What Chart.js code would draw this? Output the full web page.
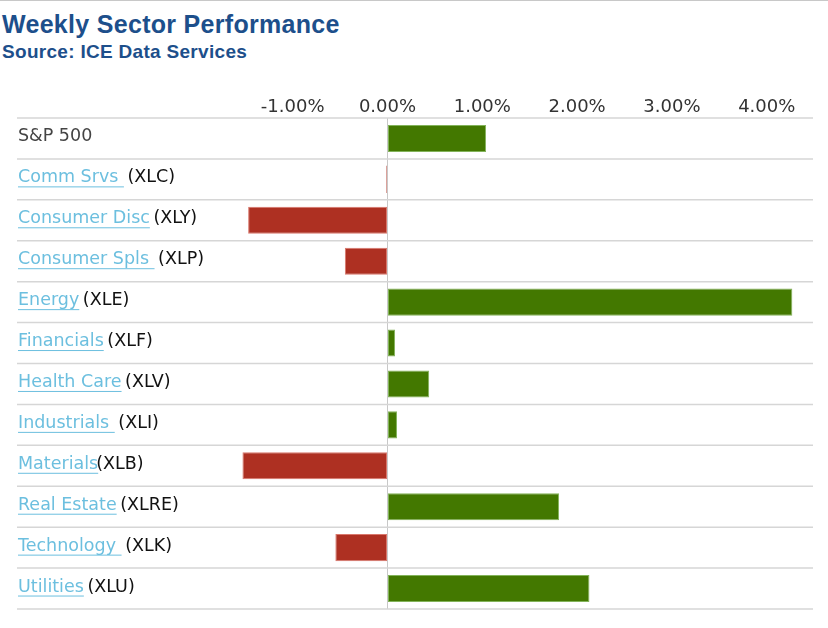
<!DOCTYPE html>
<html>
<head>
<meta charset="utf-8">
<script src="https://cdn.jsdelivr.net/npm/chart.js@4"></script>
<style>
  body { margin: 0; background: #fff; }
  #wrap { position: relative; width: 828px; height: 628px; border-top: 1px solid #c8c8c8; box-sizing: border-box; }
  #title { position: absolute; left: 2px; top: 9px; font: bold 25px "Liberation Sans", Arial, sans-serif; letter-spacing: 0.3px; color: #1d4f8b; }
  #subtitle { position: absolute; left: 2px; top: 40px; font: bold 19px "Liberation Sans", Arial, sans-serif; letter-spacing: 0.3px; color: #1d4f8b; }
  #myChart { position: absolute; left: 0; top: -1px; }
</style>
</head>
<body>
<div id="wrap">
  <div id="title">Weekly Sector Performance</div>
  <div id="subtitle">Source: ICE Data Services</div>
  <canvas id="myChart" width="828" height="628"></canvas>
</div>
<script>
// sector rows, top to bottom
const sectors = ['S&P 500', 'Comm Srvs', 'Consumer Disc', 'Consumer Spls', 'Energy', 'Financials',
  'Health Care', 'Industrials', 'Materials', 'Real Estate', 'Technology', 'Utilities'];
// underlined link part of each label (S&P 500 has no link)
const linkText = ['', 'Comm Srvs ', 'Consumer Disc', 'Consumer Spls ', 'Energy', 'Financials',
  'Health Care', 'Industrials ', 'Materials', 'Real Estate', 'Technology ', 'Utilities'];
const tickerText = ['S&P 500', ' (XLC)', ' (XLY)', ' (XLP)', ' (XLE)', ' (XLF)',
  ' (XLV)', ' (XLI)', '(XLB)', ' (XLRE)', ' (XLK)', ' (XLU)'];
// weekly % change
const weeklyChange = [1.04, -0.01, -1.47, -0.45, 4.27, 0.08, 0.44, 0.10, -1.53, 1.81, -0.55, 2.13];
const xTickValues = [-1, 0, 1, 2, 3, 4];

const labelFont = '17.5px "DejaVu Sans", Verdana, sans-serif';

// row separators across the whole width, including the label column
const rowLines = {
  id: 'rowLines',
  beforeDatasetsDraw(chart) {
    const ctx = chart.ctx;
    const area = chart.chartArea;
    const band = (area.bottom - area.top) / sectors.length;
    ctx.save();
    ctx.strokeStyle = '#d6d6d6';
    ctx.lineWidth = 1.5;
    for (let i = 0; i <= sectors.length; i++) {
      let yy = area.top + i * band;
      ctx.beginPath();
      ctx.moveTo(17, yy);
      ctx.lineTo(813, yy);
      ctx.stroke();
    }
    ctx.restore();
  }
};

// two-colour row labels: underlined link + ticker
const rowLabels = {
  id: 'rowLabels',
  afterDraw(chart) {
    const ctx = chart.ctx;
    const y = chart.scales.y;
    ctx.save();
    ctx.font = labelFont;
    ctx.textBaseline = 'alphabetic';
    ctx.textAlign = 'left';
    for (let i = 0; i < sectors.length; i++) {
      let base = y.getPixelForValue(i) + 3;
      let x = 18;
      if (linkText[i]) {
        ctx.fillStyle = '#6cbfdf';
        ctx.fillText(linkText[i], x, base);
        let w = ctx.measureText(linkText[i]).width;
        ctx.strokeStyle = '#6cbfdf';
        ctx.lineWidth = 1;
        ctx.beginPath();
        ctx.moveTo(x, base + 4.5);
        ctx.lineTo(x + w, base + 4.5);
        ctx.stroke();
        x += w - 2;
        ctx.fillStyle = '#111';
      } else {
        ctx.fillStyle = '#444';
      }
      ctx.fillText(tickerText[i], x, base);
    }
    ctx.restore();
  }
};

var chrt = document.getElementById('myChart');

var bar = new Chart(chrt, {
  type: 'bar',
  data: {
    labels: sectors,
    datasets: [{
      label: 'Weekly change',
      data: weeklyChange,
      backgroundColor: weeklyChange.map(v => v < 0 ? '#ae3022' : '#437800'),
      borderColor: weeklyChange.map(v => v < 0 ? '#d9776c' : '#83b35a'),
      borderWidth: weeklyChange.map(v => Math.abs(v) < 0.05 ? 0 : 1),
      borderSkipped: false,
      barPercentage: 0.66,
      categoryPercentage: 1.0
    }]
  },
  options: {
    indexAxis: 'y',
    responsive: false,
    animation: false,
    devicePixelRatio: 1,
    layout: { padding: { top: 88, bottom: 19, left: 17, right: 15 } },
    plugins: {
      legend: { display: false },
      tooltip: { enabled: false }
    },
    scales: {
      x: {
        position: 'top',
        min: -3.908,
        max: 4.488,
        afterBuildTicks: s => { s.ticks = xTickValues.map(v => ({ value: v })); },
        afterFit: s => { s.height = 30; },
        border: { display: false },
        grid: {
          drawTicks: false,
          lineWidth: 1,
          color: c => c.tick && c.tick.value === 0 ? '#c8c8c8' : 'rgba(0,0,0,0)'
        },
        ticks: {
          padding: 0,
          color: '#333',
          font: { family: '"DejaVu Sans", Verdana, sans-serif', size: 18 },
          callback: v => v.toFixed(2) + '%'
        }
      },
      y: {
        display: false
      }
    }
  },
  plugins: [rowLines, rowLabels]
});
</script>
</body>
</html>
